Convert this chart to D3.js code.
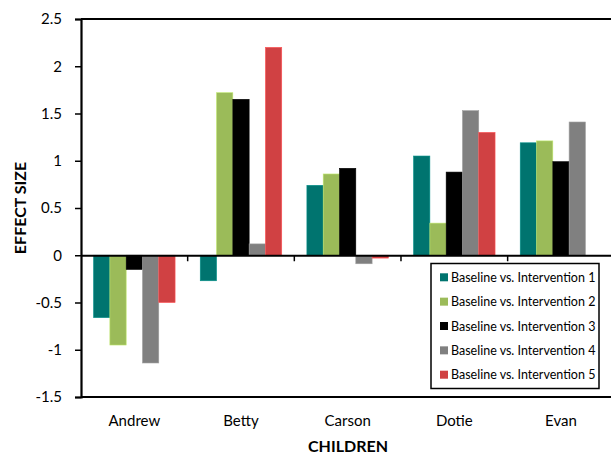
<!DOCTYPE html>
<html><head><meta charset="utf-8">
<script src="https://cdn.jsdelivr.net/npm/d3@7"></script>
<style>body{margin:0;background:#fff}svg{display:block}text{font-family:Lato,"Open Sans",sans-serif}</style>
</head><body><svg id="c" width="611" height="455"></svg>
<script>
const children = ["Andrew","Betty","Carson","Dotie","Evan"];
const seriesNames = ["Baseline vs. Intervention 1","Baseline vs. Intervention 2","Baseline vs. Intervention 3","Baseline vs. Intervention 4","Baseline vs. Intervention 5"];
const colors = ["#00746F","#9BBB59","#000000","#808080","#D04143"];
const intervention1 = [-0.66,-0.27,0.74,1.05,1.19];
const intervention2 = [-0.95,1.72,0.86,0.34,1.21];
const intervention3 = [-0.15,1.65,0.92,0.88,0.99];
const intervention4 = [-1.14,0.12,-0.09,1.53,1.41];
const intervention5 = [-0.50,2.20,-0.03,1.30,null];
const yTicks = [-1.5,-1,-0.5,0,0.5,1,1.5,2,2.5];
const series = [intervention1,intervention2,intervention3,intervention4,intervention5];

const svg = d3.select("#c");
const pL = 81, pR = 614.3, pT = 19, pB = 397;
const x = d3.scaleBand().domain(children).range([pL,pR]).padding(0);
const xs = d3.scaleBand().domain(d3.range(5)).range([0,x.bandwidth()]).paddingInner(0).paddingOuter(0.772);
const y = d3.scaleLinear().domain([-1.5,2.5]).range([pB,pT]);

// bars
series.forEach((vals,si)=>{
  svg.append("g").selectAll("rect").data(children.map((c,i)=>({c,v:vals[i]})).filter(d=>d.v!=null))
    .join("rect")
    .attr("x",d=>x(d.c)+xs(si))
    .attr("width",xs.bandwidth())
    .attr("y",d=>y(Math.max(0,d.v)))
    .attr("height",d=>Math.abs(y(d.v)-y(0)))
    .attr("fill",colors[si])
    .attr("stroke",d3.color(colors[si]).brighter(0.6))
    .attr("stroke-width",0.6);
});

// frame top/bottom
svg.append("line").attr("x1",pL).attr("x2",611).attr("y1",pT).attr("y2",pT).attr("stroke","#000").attr("stroke-width",2);
svg.append("line").attr("x1",pL).attr("x2",611).attr("y1",pB).attr("y2",pB).attr("stroke","#000").attr("stroke-width",2);

// y axis
const ya = svg.append("g").attr("transform",`translate(${pL},0)`)
  .call(d3.axisLeft(y).tickValues(yTicks).tickSize(6).tickFormat(d=>String(d)));
ya.select(".domain").attr("stroke-width",2.2);
ya.selectAll(".tick line").attr("stroke-width",1.5);
ya.selectAll("text").attr("font-size",15).attr("fill","#000").attr("x",-19);

// zero axis with category ticks
const xa = svg.append("g").attr("transform",`translate(0,${y(0)})`)
  .call(d3.axisBottom(x).tickValues([]).tickSizeOuter(0));
xa.select(".domain").attr("stroke-width",2);
svg.append("g").selectAll("line").data(d3.range(1,5)).join("line")
  .attr("x1",i=>pL+i*x.step()).attr("x2",i=>pL+i*x.step())
  .attr("y1",y(0)).attr("y2",y(0)+6).attr("stroke","#000").attr("stroke-width",1.5);

// category labels
svg.append("g").selectAll("text").data(children).join("text")
  .attr("x",d=>x(d)+x.bandwidth()/2).attr("y",426)
  .attr("text-anchor","middle").attr("font-size",15).text(d=>d);

svg.append("text").attr("x",348).attr("y",452).attr("text-anchor","middle")
  .attr("font-size",16).attr("font-weight","bold").text("CHILDREN");
svg.append("text").attr("transform","translate(26,208) rotate(-90)").attr("text-anchor","middle")
  .attr("font-size",16).attr("font-weight","bold").text("EFFECT SIZE");

// legend
const lg = svg.append("g");
lg.append("rect").attr("x",431).attr("y",263.5).attr("width",168).attr("height",125)
  .attr("fill","#fff").attr("stroke","#000").attr("stroke-width",1.5);
seriesNames.forEach((n,i)=>{
  const cy = 277.3 + i*24.35;
  lg.append("rect").attr("x",440).attr("y",cy-4).attr("width",8).attr("height",8).attr("fill",colors[i]);
  lg.append("text").attr("x",451).attr("y",cy+4.5).attr("font-size",12.5).text(n);
});
</script></body></html>
